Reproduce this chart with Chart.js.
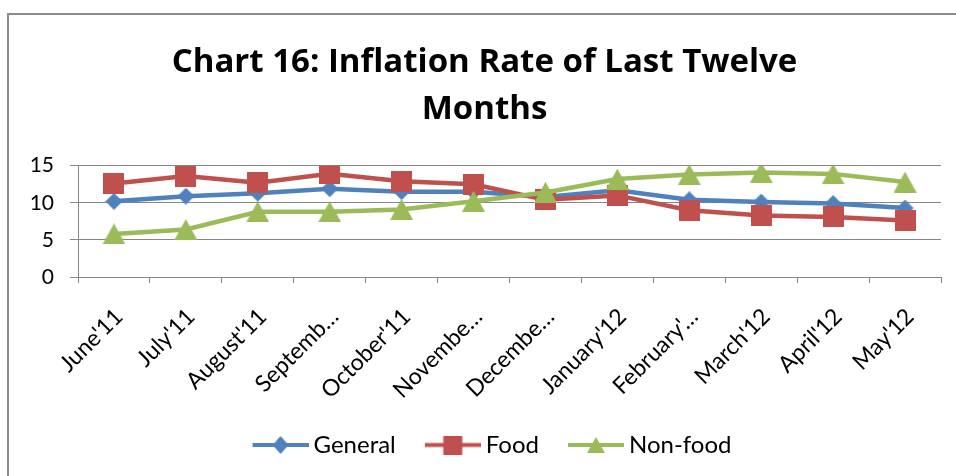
<!DOCTYPE html>
<html>
<head>
<meta charset="utf-8">
<script src="https://cdn.jsdelivr.net/npm/chart.js@4/dist/chart.umd.min.js"></script>
<style>
  html, body { margin: 0; padding: 0; background: #fff; }
  #wrap { position: relative; width: 956px; height: 476px; overflow: hidden; }
  #frame { position: absolute; left: 7px; top: 13px; width: 1000px; height: 500px;
           border-left: 2px solid #8c8c8c; border-top: 2px solid #8c8c8c; }
  canvas { position: absolute; left: 0; top: 0; }
</style>
</head>
<body>
<div id="wrap">
  <div id="frame"></div>
  <!-- the original chart runs past the right edge, so the canvas is wider than the window -->
  <canvas id="chart" width="980" height="476"></canvas>
</div>
<script>
const months = ["June'11", "July'11", "August'11", "Septemb\u2026", "October'11", "Novembe\u2026",
                "Decembe\u2026", "January'12", "February'\u2026", "March'12", "April'12", "May'12"];
const general = [10.2, 10.9, 11.3, 11.9, 11.5, 11.5, 10.8, 11.7, 10.4, 10.1, 9.9, 9.3];
const food    = [12.6, 13.6, 12.7, 13.9, 12.9, 12.5, 10.4, 11.0, 9.0, 8.3, 8.1, 7.6];
const nonFood = [5.8, 6.4, 8.8, 8.8, 9.1, 10.2, 11.4, 13.2, 13.8, 14.1, 13.9, 12.8];
const yTicks  = [0, 5, 10, 15];

const BLUE = '#4f81bd', RED = '#c0504d', GREEN = '#9bbb59';

// marker drawn into a small canvas, centred on its bounding box like Excel does.
// legend version: 78px wide, transparent on the left, then a 56px line with the marker on it
function marker(kind, color, w, h, legend) {
  const c = document.createElement('canvas');
  c.width = legend ? 78 : w; c.height = h;
  const g = c.getContext('2d');
  const cx = legend ? 22 + 28 : w / 2, cy = h / 2;
  if (legend) {
    g.strokeStyle = color; g.lineWidth = 4;
    g.beginPath(); g.moveTo(22, cy); g.lineTo(78, cy); g.stroke();
  }
  g.fillStyle = color;
  g.beginPath();
  if (kind === 'diamond') {
    g.moveTo(cx, cy - h / 2); g.lineTo(cx + w / 2, cy); g.lineTo(cx, cy + h / 2); g.lineTo(cx - w / 2, cy);
  } else if (kind === 'square') {
    g.rect(cx - w / 2, cy - h / 2, w, h);
  } else {
    g.moveTo(cx, cy - h / 2); g.lineTo(cx + w / 2, cy + h / 2); g.lineTo(cx - w / 2, cy + h / 2);
  }
  g.closePath(); g.fill();
  return c;
}

const series = [
  { label: 'General',  data: general, color: BLUE,  kind: 'diamond', w: 17, h: 17, lw: 16, lh: 18 },
  { label: 'Food',     data: food,    color: RED,   kind: 'square',  w: 21, h: 21, lw: 19, lh: 19 },
  { label: 'Non-food', data: nonFood, color: GREEN, kind: 'triangle', w: 23, h: 21, lw: 18, lh: 16 }
];
series.forEach(s => {
  s.img = marker(s.kind, s.color, s.w, s.h, false);
  s.legendImg = marker(s.kind, s.color, s.lw, s.lh, true);
});

new Chart(document.getElementById('chart'), {
  type: 'line',
  data: {
    labels: months,
    datasets: series.map((s, i) => ({
      label: s.label,
      data: s.data,
      borderColor: s.color,
      backgroundColor: s.color,
      borderWidth: 4.5,
      pointStyle: s.img,
      pointRadius: 10,
      order: 3 - i,
      tension: 0
    }))
  },
  options: {
    responsive: false,
    animation: false,
    events: [],
    layout: { padding: { left: 28, right: 39, top: 0, bottom: 9 } },
    plugins: {
      title: {
        display: true,
        text: ['Chart 16: Inflation Rate of Last Twelve', 'Months'],
        color: '#000',
        font: { family: 'Open Sans', size: 33, weight: 'bold', lineHeight: 1.42 },
        padding: { top: 39, bottom: 33 }
      },
      legend: {
        position: 'bottom',
        labels: {
          color: '#000',
          font: { family: 'Lato', size: 24 },
          usePointStyle: true,
          pointStyleWidth: 64,
          boxHeight: 20,
          padding: 14,
          generateLabels: () => series.map((s, i) => ({
            text: s.label, pointStyle: s.legendImg, fillStyle: s.color,
            strokeStyle: s.color, lineWidth: 0, hidden: false, datasetIndex: i
          }))
        }
      },
      tooltip: { enabled: false }
    },
    scales: {
      x: {
        offset: true,
        grid: { offset: true, drawOnChartArea: false, color: '#868686', tickLength: 6 },
        border: { color: '#868686' },
        ticks: {
          color: '#000',
          font: { family: 'Lato', size: 23 },
          minRotation: 45, maxRotation: 45,
          autoSkip: false, padding: 20, labelOffset: 5
        },
        afterFit: scale => { scale.height = 142; }
      },
      y: {
        min: 0, max: 15,
        afterBuildTicks: scale => { scale.ticks = yTicks.map(v => ({ value: v })); },
        grid: { color: '#868686', tickLength: 8 },
        border: { color: '#868686' },
        ticks: {
          color: '#000',
          font: { family: 'Lato', size: 21 },
          padding: 16
        },
        afterFit: scale => { scale.width = 50; }
      }
    }
  }
});
</script>
</body>
</html>
